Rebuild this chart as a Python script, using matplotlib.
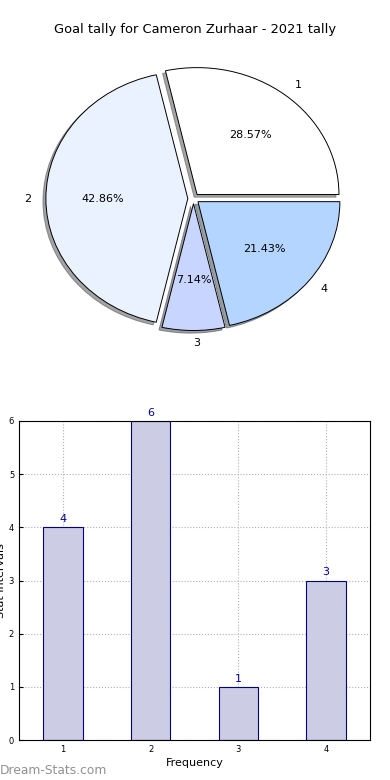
import matplotlib
matplotlib.use("Agg")
import matplotlib.pyplot as plt

title = "Goal tally for Cameron Zurhaar - 2021 tally"
categories = ["1", "2", "3", "4"]
values = [4, 6, 1, 3]
slice_colors = ["#ffffff", "#eaf1ff", "#c8d5ff", "#b3d5ff"]
xlabel = "Frequency"
ylabel = "Stat Intervals"
watermark = "Dream-Stats.com"

fig = plt.figure(figsize=(3.9, 7.8), dpi=100)

# Pie
L = 1.3
axp = fig.add_axes([9/390, 416.5/780, 369/390, 330/780])
wedges, texts, autotexts = axp.pie(
    values, labels=categories, colors=slice_colors, autopct="%1.2f%%",
    explode=[0.04]*len(values), shadow=dict(ox=-0.015, oy=-0.015),
    startangle=0, labeldistance=1.1, pctdistance=0.6,
    wedgeprops=dict(edgecolor="black", linewidth=0.7),
    textprops=dict(fontsize=8))
axp.set_aspect("auto")
axp.set_xlim(-L, L)
axp.set_ylim(-L, L)
axp.axis("off")

fig.text(0.5, 1 - 30/780, title, ha="center", va="center", fontsize=9.4)

# Bars
axb = fig.add_axes([19/390, 40/780, 351/390, 319/780])
x = list(range(1, len(values) + 1))
axb.bar(x, values, width=0.45, color="#ccccE4", edgecolor="#000080", linewidth=0.8, zorder=2)
for xi, v in zip(x, values):
    axb.text(xi, v + 0.06, str(v), ha="center", va="bottom", color="#000099", fontsize=8)
axb.set_xlim(0.5, 4.5)
axb.set_ylim(0, 6)
axb.set_xticks(x)
axb.set_xticklabels(categories)
axb.set_yticks(range(0, 7))
axb.tick_params(labelsize=6, direction="in", length=3)
axb.grid(True, linestyle=":", color="#b0b0b0", linewidth=0.8, zorder=0)
axb.set_axisbelow(True)
axb.set_xlabel(xlabel, fontsize=8, labelpad=3)
axb.set_ylabel(ylabel, fontsize=8, labelpad=2)

fig.text(0.0, 1 - 770/780, watermark, ha="left", va="center", fontsize=8.8,
         color="#909090")

fig.savefig("out.png", dpi=100)
